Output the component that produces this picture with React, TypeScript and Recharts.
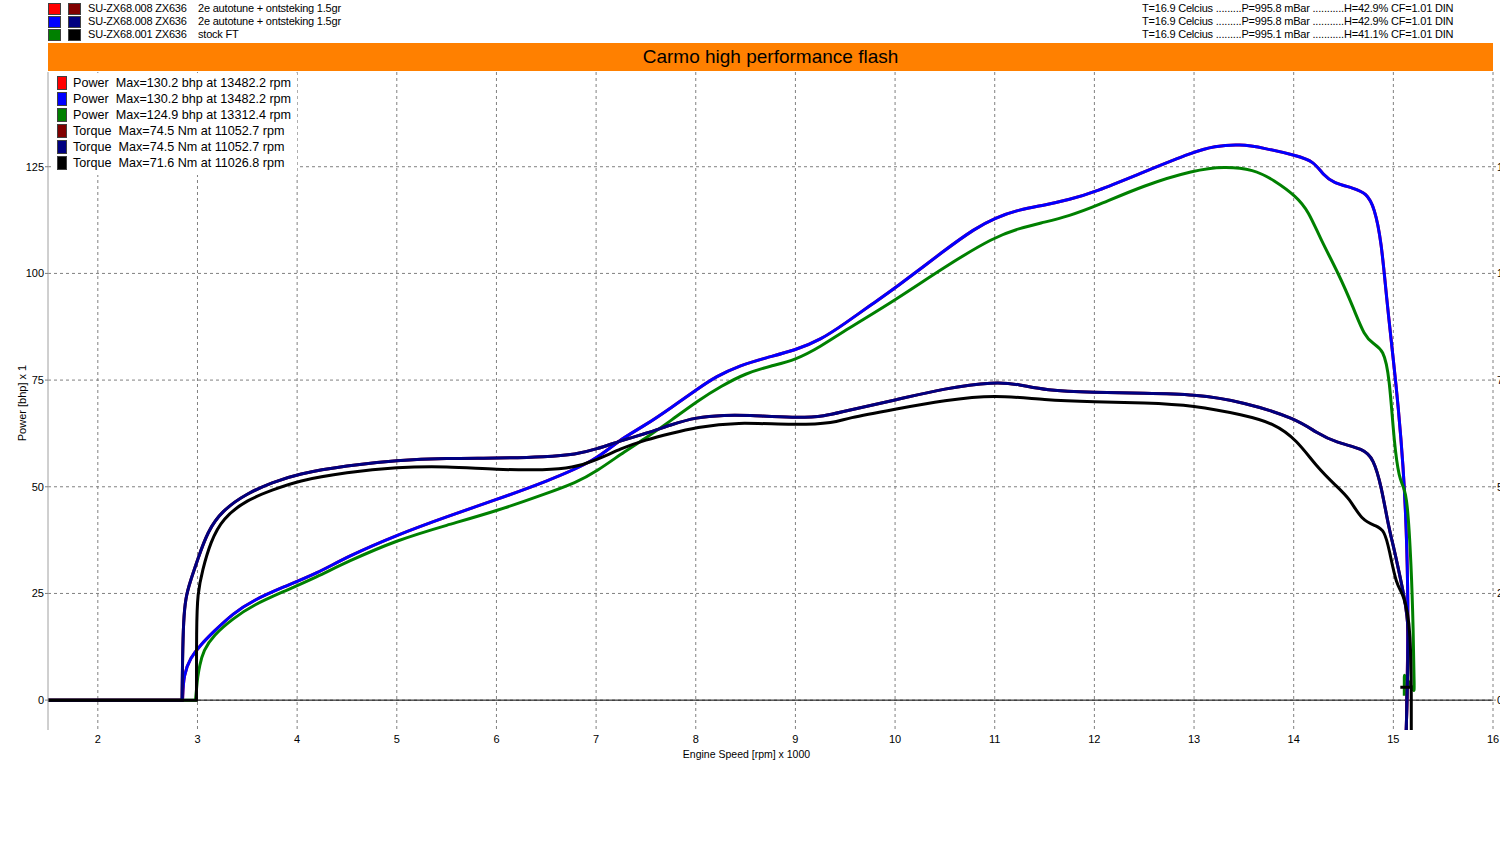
import { LineChart, Line, XAxis, YAxis, CartesianGrid, ReferenceLine, Legend } from "recharts";

// run headers (top left / top right of the sheet)
const runIds = ["SU-ZX68.008 ZX636", "SU-ZX68.008 ZX636", "SU-ZX68.001 ZX636"];
const runNotes = ["2e autotune + ontsteking 1.5gr", "2e autotune + ontsteking 1.5gr", "stock FT"];
const runWeather = [
  "T=16.9 Celcius .........P=995.8 mBar ...........H=42.9% CF=1.01 DIN",
  "T=16.9 Celcius .........P=995.8 mBar ...........H=42.9% CF=1.01 DIN",
  "T=16.9 Celcius .........P=995.1 mBar ...........H=41.1% CF=1.01 DIN",
];
const powerColors = ["#ff0000", "#0000ff", "#008000"];
const torqueColors = ["#800000", "#000080", "#000000"];

const title = "Carmo high performance flash";
const seriesNames = [
  "Power  Max=130.2 bhp at 13482.2 rpm",
  "Power  Max=130.2 bhp at 13482.2 rpm",
  "Power  Max=124.9 bhp at 13312.4 rpm",
  "Torque  Max=74.5 Nm at 11052.7 rpm",
  "Torque  Max=74.5 Nm at 11052.7 rpm",
  "Torque  Max=71.6 Nm at 11026.8 rpm",
];

const xTicks = [2, 3, 4, 5, 6, 7, 8, 9, 10, 11, 12, 13, 14, 15, 16];
const yTicks = [0, 25, 50, 75, 100, 125];

// [rpm x 1000, value]; repeated points keep the sharp corners of the basis curve
const powerTuned: [number, number][] = [
  [1.5, 0], [1.5, 0], [2.85, 0], [2.85, 0], [2.85, 0], [2.86, 6], [2.93, 10], [3.03, 12.9], [3.16, 16],
  [3.36, 20.4], [3.56, 23.4], [3.86, 26.5], [4.2, 29.7], [4.5, 33.6], [5.0, 38.7], [5.5, 43], [6.0, 47],
  [6.5, 51.2], [7.0, 56.2], [7.2, 60.5], [7.5, 64.5], [7.75, 68.5], [8.03, 73.1], [8.2, 75.8],
  [8.45, 78.5], [8.7, 80.2], [9.0, 82], [9.25, 84.4], [9.5, 88.3], [9.75, 92.5], [10.0, 96.5],
  [10.5, 105.5], [10.8, 110.5], [11.0, 113], [11.25, 115], [11.5, 116], [11.75, 117.3], [12.0, 119],
  [12.5, 123.8], [13.0, 128.5], [13.2, 129.8], [13.46, 130.3], [13.7, 129.4], [14.03, 127.6],
  [14.2, 126.3], [14.3, 123], [14.4, 121.2], [14.6, 120], [14.73, 118.8], [14.81, 115.5],
  [14.88, 107.5], [14.93, 94.6], [15.0, 79.8], [15.05, 68.7], [15.1, 54.7], [15.13, 40.8],
  [15.15, 22.3], [15.14, 5], [15.13, -7], [15.13, -7],
];
const powerStock: [number, number][] = [
  [1.5, 0], [1.5, 0], [2.98, 0], [2.98, 0], [2.98, 0], [3.0, 5], [3.0, 5], [3.02, 8], [3.06, 11.7],
  [3.16, 15.2], [3.36, 19.2], [3.56, 22.3], [3.86, 25.4], [4.2, 28.9], [4.5, 32.4], [5.0, 37.5],
  [5.5, 41], [6.0, 44.3], [6.5, 48.4], [6.8, 51], [7.0, 53.5], [7.3, 58.5], [7.5, 61.4], [7.75, 65.5],
  [8.03, 70.3], [8.25, 73.5], [8.5, 76.6], [8.75, 78.3], [9.0, 79.7], [9.25, 82.8], [9.5, 86.7],
  [10.0, 93.7], [10.5, 101.6], [11.0, 108.6], [11.25, 110.6], [11.5, 112], [11.75, 113.5],
  [12.0, 115.6], [12.5, 120.7], [13.0, 124.2], [13.3, 125.1], [13.6, 124.4], [13.8, 121.9],
  [14.03, 118], [14.15, 114.5], [14.27, 108], [14.45, 100], [14.6, 91.9], [14.71, 85.3], [14.8, 83.5],
  [14.9, 82.1], [14.96, 76.2], [15.01, 59.4], [15.06, 52], [15.1, 50.1], [15.14, 47.3], [15.18, 31.5],
  [15.2, 16.6], [15.21, 2], [15.21, 2], [15.11, 6], [15.11, 6], [15.11, 1], [15.11, 1],
];
const torqueTuned: [number, number][] = [
  [1.5, 0], [1.5, 0], [2.845, 0], [2.845, 0], [2.845, 0], [2.85, 10], [2.86, 18.7], [2.88, 24], [2.93, 28],
  [3.0, 32.8], [3.1, 39.5], [3.25, 44.5], [3.5, 48.5], [3.75, 51], [4.0, 53], [4.5, 55], [5.0, 56.2],
  [5.5, 56.7], [6.0, 56.7], [6.5, 57], [6.8, 57.6], [7.0, 58.8], [7.25, 60.8], [7.5, 62.5],
  [7.75, 64.5], [8.0, 66.3], [8.3, 66.8], [8.5, 66.8], [9.0, 66.1], [9.3, 66.5], [9.5, 67.8],
  [10.0, 70.3], [10.5, 73.1], [11.0, 74.6], [11.25, 74], [11.5, 72.6], [12.0, 72.1], [12.5, 71.9],
  [13.0, 71.7], [13.5, 69.9], [14.03, 65.9], [14.23, 62.6], [14.43, 60.3], [14.7, 58.9], [14.8, 56.6],
  [14.88, 50.1], [14.95, 40.8], [15.01, 35.2], [15.06, 29.7], [15.11, 24.2], [15.16, 16.6],
  [15.14, 5], [15.13, -7], [15.13, -7],
];
const torqueStock: [number, number][] = [
  [1.5, 0], [1.5, 0], [2.99, 0], [2.99, 0], [2.99, 0], [2.99, 17], [3.0, 25], [3.05, 30.5], [3.13, 37],
  [3.25, 42.6], [3.5, 47], [3.75, 49.2], [4.0, 51.4], [4.5, 53.4], [5.0, 54.6], [5.5, 54.8], [6.0, 54],
  [6.5, 53.9], [6.76, 54.4], [7.0, 56.2], [7.25, 59], [7.5, 61], [7.75, 62.5], [8.0, 63.9], [8.4, 65.2],
  [9.0, 64.4], [9.4, 65], [9.5, 66], [10.0, 68.2], [10.5, 70.3], [11.0, 71.6], [11.5, 70.3],
  [12.0, 69.9], [12.5, 69.7], [13.0, 69.1], [13.5, 66.8], [13.8, 64.9], [14.03, 61], [14.23, 54.7],
  [14.43, 50.1], [14.56, 47.3], [14.68, 42.2], [14.83, 40.8], [14.91, 39.8], [14.96, 35.2],
  [15.03, 26.9], [15.1, 25], [15.18, 17.6], [15.18, -7], [15.18, -7], [15.18, -7],
  [15.18, 3], [15.18, 3], [15.07, 3], [15.07, 3],
];

const toPoints = (arr: [number, number][]) => arr.map(([rpm, v]) => ({ rpm, v }));

// red/dark red runs are identical to blue/navy and sit underneath them
const series = [
  { data: powerTuned, color: powerColors[0] },
  { data: powerTuned, color: powerColors[1] },
  { data: powerStock, color: powerColors[2] },
  { data: torqueTuned, color: torqueColors[0] },
  { data: torqueTuned, color: torqueColors[1] },
  { data: torqueStock, color: torqueColors[2] },
];

const xMinor: number[] = [];
for (let i = 16; i < 160; i += 2) if (i % 10 !== 0) xMinor.push(i / 10);
const yMinor: number[] = [];
for (let v = -5; v <= 145; v += 5) if (v % 25 !== 0) yMinor.push(v);

const font = "'Liberation Sans', Arial, sans-serif";
const tickStyle = { fontSize: 11, fill: "#000", fontFamily: font };

function Swatch({ color, left, top, w = 13, h = 12 }: { color: string; left: number; top: number; w?: number; h?: number }) {
  return (
    <div
      style={{
        position: "absolute", left, top, width: w, height: h, background: color,
        border: "1px solid #404040", boxSizing: "border-box",
      }}
    />
  );
}

function InnerLegend() {
  return (
    <div style={{ fontFamily: font, fontSize: 12.6, color: "#000", background: "#fff", width: 240, padding: "2px 0 4px 6px" }}>
      {series.map((s, i) => (
        <div key={i} style={{ position: "relative", height: 16, whiteSpace: "pre" }}>
          <Swatch color={s.color} left={0} top={1} w={10} h={14} />
          <span style={{ position: "absolute", left: 16, top: 0, lineHeight: "16px" }}>{seriesNames[i]}</span>
        </div>
      ))}
    </div>
  );
}

const headerText = { position: "absolute" as const, fontSize: 11, lineHeight: "13px", whiteSpace: "pre" as const, letterSpacing: -0.2 };

export default function App() {
  return (
    <div style={{ position: "absolute", left: 0, top: 0, width: 1500, height: 850, background: "#fff", fontFamily: font, overflow: "hidden" }}>
      {runIds.map((id, i) => (
        <div key={i}>
          <Swatch color={powerColors[i]} left={48} top={3 + i * 13} />
          <Swatch color={torqueColors[i]} left={68} top={3 + i * 13} />
          <div style={{ ...headerText, left: 88, top: i * 13 + 2 }}>{id}</div>
          <div style={{ ...headerText, left: 198, top: i * 13 + 2 }}>{runNotes[i]}</div>
          <div style={{ ...headerText, left: 1142, top: i * 13 + 2 }}>{runWeather[i]}</div>
        </div>
      ))}
      <div
        style={{
          position: "absolute", left: 48, top: 43, width: 1445, height: 28, background: "#ff8000",
          textAlign: "center", fontSize: 19, lineHeight: "28px", color: "#000",
        }}
      >
        {title}
      </div>
      <div style={{ position: "absolute", left: 0, top: 0 }}>
        <LineChart width={1500} height={850} margin={{ top: 72, right: 0, bottom: 90, left: 0 }}>
          <CartesianGrid stroke="#808080" strokeDasharray="3 3" horizontalValues={yTicks} verticalValues={xTicks} />
          <XAxis
            dataKey="rpm" type="number" domain={[1.5, 16]} ticks={xTicks} allowDataOverflow
            height={30} tickLine={false} axisLine={false} tickSize={3} tickMargin={2} tick={tickStyle}
            label={{ value: "Engine Speed [rpm] x 1000", position: "insideBottom", offset: 2, dx: -24, style: { fontSize: 10.5, fill: "#000", fontFamily: font } }}
          />
          <XAxis
            xAxisId="minor" type="number" domain={[1.5, 16]} ticks={xMinor} allowDataOverflow height={0}
            tick={false} axisLine={false} tickSize={2} tickLine={{ stroke: "#c00000" }}
          />
          <XAxis
            xAxisId="top" orientation="top" type="number" domain={[1.5, 16]} height={0}
            tick={false} tickLine={false} axisLine={{ stroke: "#a0a0a0" }}
          />
          <YAxis
            type="number" domain={[-7, 147.2]} ticks={yTicks} allowDataOverflow width={48}
            tickSize={3} tickMargin={1} tick={tickStyle} tickLine={{ stroke: "#808080" }} axisLine={{ stroke: "#a0a0a0" }}
            label={{ value: "Power [bhp] x 1", angle: -90, position: "center", dx: -2, dy: 2, style: { fontSize: 11, fill: "#000", fontFamily: font } }}
          />
          <YAxis
            yAxisId="minor" type="number" domain={[-7, 147.2]} ticks={yMinor} allowDataOverflow width={0}
            tick={false} axisLine={false} tickSize={4} tickLine={{ stroke: "#c00000" }}
          />
          <YAxis
            yAxisId="right" orientation="right" type="number" domain={[-7, 147.2]} ticks={yTicks} allowDataOverflow width={7}
            tickSize={3} tickMargin={1} tick={tickStyle} tickLine={{ stroke: "#808080" }} axisLine={false}
          />
          <YAxis
            yAxisId="rightMinor" orientation="right" type="number" domain={[-7, 147.2]} ticks={yMinor} allowDataOverflow width={0}
            tick={false} axisLine={false} tickSize={4} tickLine={{ stroke: "#c00000" }}
          />
          <ReferenceLine y={0} stroke="#000" strokeWidth={1} />
          <Legend
            layout="horizontal" verticalAlign="middle" align="center"
            wrapperStyle={{ top: 73, left: 51, width: "auto" }}
            content={<InnerLegend />}
          />
          {series.map((s, i) => (
            <Line
              key={i}
              data={toPoints(s.data)}
              dataKey="v"
              name={seriesNames[i]}
              type="basis"
              stroke={s.color}
              strokeWidth={3}
              dot={false}
              activeDot={false}
              isAnimationActive={false}
            />
          ))}
        </LineChart>
      </div>
    </div>
  );
}
